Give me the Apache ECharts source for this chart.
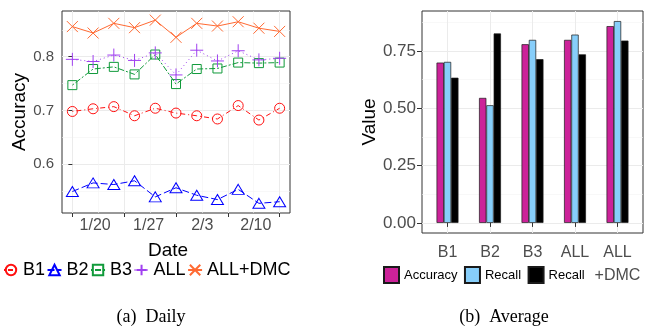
<!DOCTYPE html>
<html>
<head>
<meta charset="utf-8">
<script src="https://cdn.jsdelivr.net/npm/echarts@6/dist/echarts.min.js"></script>
<style>
    html, body { margin: 0; padding: 0; background: #fff; }
    #chart { width: 645px; height: 329px; }
</style>
</head>
<body>
<div id="chart"></div>
<script>
// (a) daily accuracy, one point per sample day
var dayIdx = [0, 1, 2, 3, 4, 5, 6, 7, 8, 9, 10];
var dateTicks = ['1/20', '1/27', '2/3', '2/10'];
var dateTickPos = [1.1, 3.68, 6.27, 8.85];
var accB1 = [0.698, 0.703, 0.707, 0.690, 0.704, 0.695, 0.690, 0.684, 0.709, 0.682, 0.704];
var accB2 = [0.549, 0.565, 0.562, 0.569, 0.539, 0.556, 0.542, 0.534, 0.553, 0.527, 0.530];
var accB3 = [0.747, 0.777, 0.781, 0.767, 0.804, 0.749, 0.777, 0.778, 0.789, 0.788, 0.789];
var accALL = [0.795, 0.791, 0.803, 0.793, 0.807, 0.766, 0.812, 0.792, 0.811, 0.794, 0.797];
var accDMC = [0.856, 0.844, 0.862, 0.854, 0.868, 0.836, 0.862, 0.857, 0.865, 0.853, 0.847];
var accTicks = [0.6, 0.7, 0.8];

// (b) averages
var methods = ['B1', 'B2', 'B3', 'ALL', 'ALL\n+DMC'];
var avgAccuracy = [0.699, 0.545, 0.779, 0.798, 0.858];
var avgRecall = [0.702, 0.513, 0.798, 0.821, 0.880];
var avgRecall2 = [0.633, 0.826, 0.714, 0.735, 0.795];
var valueTicks = [0, 0.25, 0.5, 0.75];

var font = 'Liberation Sans';
var gridMajor = {show: true, lineStyle: {color: '#ebebeb', width: 1}};
var gridMinor = {show: true, lineStyle: {color: '#f3f3f3', width: 0.6}};
var tickStyle = {color: '#333', width: 1};

function pts(vals) {
    return vals.map(function (v, i) { return [dayIdx[i], v]; });
}
function bars(vals) {
    return vals.map(function (v, i) { return [i + 1, v]; });
}
function nearest(list, v) {
    for (var i = 0; i < list.length; i++) {
        if (Math.abs(list[i] - v) < 1e-6) return i;
    }
    return -1;
}

var symCircle = 'path://M1,0A1,1 0 1,1 -1,0A1,1 0 1,1 1,0Z';
var symTri = 'path://M0,-1L0.866,0.5L-0.866,0.5Z';
var symSquare = 'path://M-1,-1H1V1H-1Z';
var symPlus = 'path://M0,-1V1M-1,0H1';
var symCross = 'path://M-1,-1L1,1M-1,1L1,-1';

function lineSeries(name, vals, color, dash, symbol, size) {
    return {
        name: name,
        type: 'line',
        xAxisIndex: 0,
        yAxisIndex: 0,
        data: pts(vals),
        symbol: symbol,
        symbolSize: size,
        lineStyle: {color: color, width: 1, type: dash},
        itemStyle: {color: 'rgba(0,0,0,0)', borderColor: color, borderWidth: 1},
        emphasis: {disabled: true},
        z: 3
    };
}
function barSeries(name, vals, color) {
    return {
        name: name,
        type: 'bar',
        xAxisIndex: 2,
        yAxisIndex: 2,
        data: bars(vals),
        barWidth: 7.3,
        barGap: '0%',
        itemStyle: {color: color, borderColor: '#1a1a1a', borderWidth: 0.7},
        emphasis: {disabled: true}
    };
}

var chart = echarts.init(document.getElementById('chart'), null, {renderer: 'canvas'});
chart.setOption({
    animation: false,
    backgroundColor: '#fff',
    textStyle: {fontFamily: font},
    grid: [
        {left: 62, top: 11, width: 228, height: 202, show: true, borderColor: '#333', borderWidth: 1, backgroundColor: 'transparent'},
        {left: 422, top: 11, width: 221, height: 222, show: true, borderColor: '#333', borderWidth: 1, backgroundColor: 'transparent'}
    ],
    legend: [
        {
            data: ['B1', 'B2', 'B3', 'ALL', 'ALL+DMC'],
            left: 3, top: 261, padding: 0,
            itemWidth: 14, itemHeight: 13, itemGap: 1.5,
            textStyle: {fontSize: 18, color: '#000', fontFamily: font}
        },
        {
            data: ['Accuracy', 'Recall', 'Recall '],
            left: 383, top: 266, padding: 0,
            icon: 'rect',
            itemWidth: 15, itemHeight: 16, itemGap: 6.5,
            formatter: function (n) { return n.trim(); },
            textStyle: {fontSize: 13, color: '#000', fontFamily: font}
        }
    ],
    xAxis: [
        {
            gridIndex: 0, type: 'value', min: -0.5, max: 10.5,
            name: 'Date', nameLocation: 'middle', nameGap: 28,
            nameTextStyle: {fontSize: 19, color: '#000', padding: [0, 16, 0, 0]},
            axisLine: {show: false},
            axisTick: {show: true, length: 4, lineStyle: tickStyle, customValues: [0, 2.5, 5, 7.5, 10]},
            axisLabel: {
                customValues: dateTickPos, margin: 5, fontSize: 16, color: '#4d4d4d',
                formatter: function (v) { return dateTicks[nearest(dateTickPos, v)]; }
            },
            splitLine: gridMajor
        },
        {
            gridIndex: 0, type: 'value', min: -0.5, max: 10.5,
            axisLine: {show: false},
            axisTick: {show: false, customValues: [1.25, 3.75, 6.25, 8.75]},
            axisLabel: {show: false},
            splitLine: gridMinor
        },
        {
            gridIndex: 1, type: 'value', min: 0.4, max: 5.6,
            axisLine: {show: false},
            axisTick: {show: true, length: 4, lineStyle: tickStyle, customValues: [1, 2, 3, 4, 5]},
            axisLabel: {
                customValues: [1, 2, 3, 4, 5], margin: 8, fontSize: 16, color: '#4d4d4d', lineHeight: 23,
                formatter: function (v) { return methods[Math.round(v) - 1]; }
            },
            splitLine: gridMajor
        }
    ],
    yAxis: [
        {
            gridIndex: 0, type: 'value', min: 0.509, max: 0.885,
            name: 'Accuracy', nameLocation: 'middle', nameGap: 31,
            nameTextStyle: {fontSize: 19, color: '#000'},
            axisLine: {show: false},
            axisTick: {show: true, length: 4, lineStyle: tickStyle, customValues: accTicks},
            axisLabel: {
                customValues: accTicks, margin: 8, fontSize: 15, color: '#4d4d4d',
                formatter: function (v) { return v.toFixed(1); }
            },
            splitLine: gridMajor
        },
        {
            gridIndex: 0, type: 'value', min: 0.509, max: 0.885, position: 'left',
            axisLine: {show: false},
            axisTick: {show: false, customValues: [0.55, 0.65, 0.75, 0.85]},
            axisLabel: {show: false},
            splitLine: gridMinor
        },
        {
            gridIndex: 1, type: 'value', min: -0.044, max: 0.924,
            name: 'Value', nameLocation: 'middle', nameGap: 40,
            nameTextStyle: {fontSize: 19, color: '#000'},
            axisLine: {show: false},
            axisTick: {show: true, length: 5, lineStyle: tickStyle, customValues: valueTicks},
            axisLabel: {
                customValues: valueTicks, margin: 6, fontSize: 17, color: '#4d4d4d',
                formatter: function (v) { return v.toFixed(2); }
            },
            splitLine: gridMajor
        },
        {
            gridIndex: 1, type: 'value', min: -0.044, max: 0.924, position: 'left',
            axisLine: {show: false},
            axisTick: {show: false, customValues: [0.125, 0.375, 0.625, 0.875]},
            axisLabel: {show: false},
            splitLine: gridMinor
        }
    ],
    series: [
        lineSeries('B1', accB1, '#ff1010', [1, 3, 5, 3], symCircle, 10),
        lineSeries('B2', accB2, '#0000ff', [7, 3], symTri, [12, 10]),
        lineSeries('B3', accB3, '#109a3a', [2, 2, 6, 2], symSquare, 9),
        lineSeries('ALL', accALL, '#a040f0', [1, 3], symPlus, 13),
        lineSeries('ALL+DMC', accDMC, '#ff6a33', 'solid', symCross, 11),
        barSeries('Accuracy', avgAccuracy, '#cc2299'),
        barSeries('Recall', avgRecall, '#87cefa'),
        barSeries('Recall ', avgRecall2, '#000000')
    ],
    graphic: [
        {type: 'text', style: {text: '(a)  Daily', font: '18px "Liberation Serif"', fill: '#000', x: 151, y: 317, align: 'center', verticalAlign: 'middle'}},
        {type: 'text', style: {text: '(b)  Average', font: '18px "Liberation Serif"', fill: '#000', x: 504, y: 317, align: 'center', verticalAlign: 'middle'}}
    ]
});
</script>
</body>
</html>
